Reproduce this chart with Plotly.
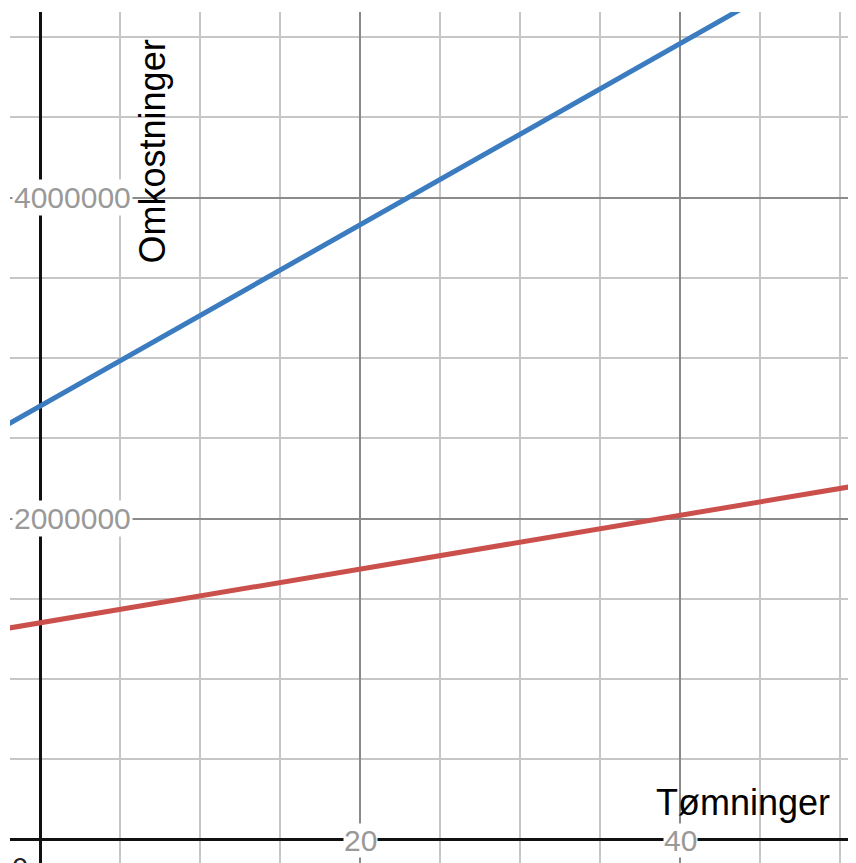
import plotly.graph_objects as go

# Data
x_vals = [-5, 0, 40, 55]
blue_cost = [2418000, 2700000, 4960000, 5806000]
red_cost = [1266000, 1350000, 2020000, 2271000]

x_tick_vals = [20, 40]
x_tick_text = ["20", "40"]
y_tick_vals = [2000000, 4000000]
y_tick_text = ["2000000", "4000000"]

x_title = "Tømninger"
y_title = "Omkostninger"

X_RANGE = [-1.875, 51.0]
Y_RANGE = [-146400, 5155800]

FONT = "Liberation Sans, Arial, sans-serif"
MINOR = "#c6c6c6"
MAJOR = "#8a8a8a"
LABEL = "#999999"

fig = go.Figure()
fig.add_trace(go.Scatter(x=x_vals, y=blue_cost, mode="lines",
                         line=dict(color="#3b7cc0", width=5), hoverinfo="skip"))
fig.add_trace(go.Scatter(x=x_vals, y=red_cost, mode="lines",
                         line=dict(color="#cb504c", width=5), hoverinfo="skip"))

shapes = [dict(type="line", xref="paper", yref="y", x0=0, x1=1, y0=5000000, y1=5000000,
               line=dict(color=MAJOR, width=1.5), layer="below")]

annotations = []
for xv, t in zip(x_tick_vals, x_tick_text):
    annotations.append(dict(x=xv, y=0, xref="x", yref="y", text=t, showarrow=False,
                            xanchor="center", yanchor="middle", yshift=-1,
                            font=dict(family=FONT, size=30, color=LABEL),
                            bgcolor="white", borderpad=0))
for yv, t in zip(y_tick_vals, y_tick_text):
    annotations.append(dict(x=X_RANGE[0], y=yv, xref="x", yref="y", text=t, showarrow=False,
                            xanchor="left", yanchor="middle", xshift=2,
                            font=dict(family=FONT, size=30, color=LABEL),
                            bgcolor="white", borderpad=1))
annotations.append(dict(x=0, y=0, xref="x", yref="y", text="0", showarrow=False,
                        xanchor="right", yanchor="top", xshift=-10, yshift=-10,
                        font=dict(family=FONT, size=29, color="#222222")))
annotations.append(dict(x=43.94, y=233600, xref="x", yref="y", text=x_title, showarrow=False,
                        xanchor="center", yanchor="middle",
                        font=dict(family=FONT, size=36, color="black")))
annotations.append(dict(x=7.0, y=4287000, xref="x", yref="y", text=y_title, showarrow=False,
                        xanchor="center", yanchor="middle", textangle=-90,
                        font=dict(family=FONT, size=36, color="black")))

axis_common = dict(showgrid=True, gridcolor=MAJOR, gridwidth=1.5,
                   showticklabels=False, ticks="", zeroline=True, zerolinecolor="#111111",
                   zerolinewidth=2.5, showline=False, fixedrange=True)

fig.update_layout(
    width=848, height=855,
    margin=dict(l=2, r=0, t=4, b=0),
    paper_bgcolor="white", plot_bgcolor="white",
    showlegend=False,
    shapes=shapes, annotations=annotations,
    xaxis=dict(range=X_RANGE, tick0=0, dtick=20,
               minor=dict(tick0=0, dtick=5, showgrid=True, gridcolor=MINOR, gridwidth=1.5),
               **axis_common),
    yaxis=dict(range=Y_RANGE, tick0=0, dtick=2000000,
               minor=dict(tick0=0, dtick=500000, showgrid=True, gridcolor=MINOR, gridwidth=1.5),
               **axis_common),
)

fig.write_html("out.html")
